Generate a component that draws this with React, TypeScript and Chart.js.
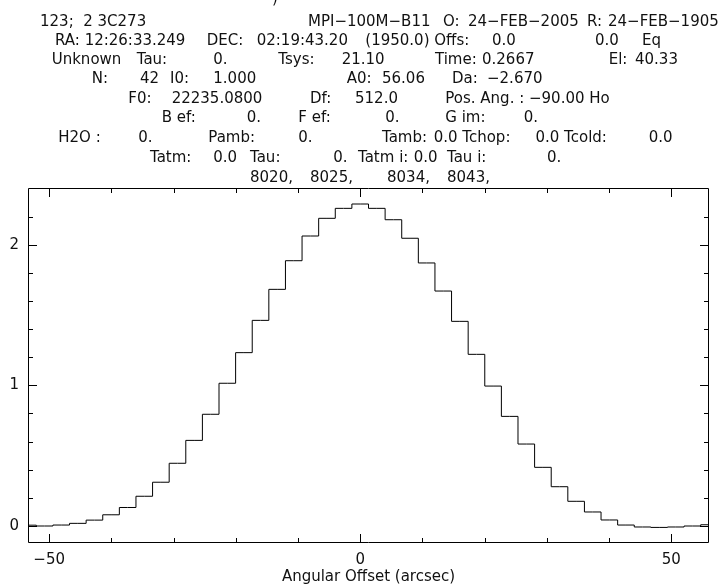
import React, { useEffect, useRef } from "react";
import { Chart, registerables } from "chart.js";

Chart.register(...registerables);

// ---- data ----
const offsets = [
  -53.4, -50.73, -48.06, -45.39, -42.72, -40.05, -37.38, -34.71, -32.04, -29.37,
  -26.7, -24.03, -21.36, -18.69, -16.02, -13.35, -10.68, -8.01, -5.34, -2.67,
  0.0, 2.67, 5.34, 8.01, 10.68, 13.35, 16.02, 18.69, 21.36, 24.03,
  26.7, 29.37, 32.04, 34.71, 37.38, 40.05, 42.72, 45.39, 48.06, 50.73,
  53.4, 56.07,
];
const intensity = [
  0.004, -0.002, 0.005, 0.017, 0.04, 0.078, 0.13, 0.21, 0.31, 0.445,
  0.608, 0.794, 1.015, 1.233, 1.463, 1.684, 1.888, 2.064, 2.19, 2.261,
  2.292, 2.261, 2.18, 2.048, 1.872, 1.672, 1.456, 1.221, 0.995, 0.779,
  0.582, 0.416, 0.278, 0.174, 0.098, 0.041, 0.005, -0.009, -0.012, -0.009,
  -0.002, 0.007,
];
const xMajorTicks = [-50, 0, 50];
const xMinorTicks = [-40, -30, -20, -10, 10, 20, 30, 40];
const yMajorTicks = [0, 1, 2];
const yMinorTicks = [0.2, 0.4, 0.6, 0.8, 1.2, 1.4, 1.6, 1.8, 2.2];
const xTitle = "Angular Offset (arcsec)";

// header text chunks: [text, x, line]
const headerChunks: [string, number, number][] = [
  ["123;  2 3C273", 40, 0],
  ["MPI\u2212100M\u2212B11", 308, 0],
  ["O:", 443, 0],
  ["24\u2212FEB\u22122005", 468, 0],
  ["R:", 587, 0],
  ["24\u2212FEB\u22121905", 608, 0],

  ["RA: 12:26:33.249", 55, 1],
  ["DEC:", 206.7, 1],
  ["02:19:43.20", 256.7, 1],
  ["(1950.0) Offs:", 365.3, 1],
  ["0.0", 492, 1],
  ["0.0", 595, 1],
  ["Eq", 642, 1],

  ["Unknown", 51.7, 2],
  ["Tau:", 136.7, 2],
  ["0.", 213.3, 2],
  ["Tsys:", 278.3, 2],
  ["21.10", 341.7, 2],
  ["Time:", 435, 2],
  ["0.2667", 482, 2],
  ["El:", 608.7, 2],
  ["40.33", 635, 2],

  ["N:", 91.7, 3],
  ["42", 140, 3],
  ["I0:", 170, 3],
  ["1.000", 213.3, 3],
  ["A0:", 346.7, 3],
  ["56.06", 382, 3],
  ["Da:", 452, 3],
  ["\u22122.670", 487, 3],

  ["F0:", 128.3, 4],
  ["22235.0800", 171.7, 4],
  ["Df:", 310, 4],
  ["512.0", 355, 4],
  ["Pos. Ang. : \u221290.00 Ho", 445.3, 4],

  ["B ef:", 161.7, 5],
  ["0.", 246.7, 5],
  ["F ef:", 298.3, 5],
  ["0.", 385.3, 5],
  ["G im:", 445.3, 5],
  ["0.", 523.7, 5],

  ["H2O :", 58.3, 6],
  ["0.", 138.3, 6],
  ["Pamb:", 208.3, 6],
  ["0.", 298.3, 6],
  ["Tamb:", 382, 6],
  ["0.0 Tchop:", 433.7, 6],
  ["0.0 Tcold:", 535.5, 6],
  ["0.0", 648.7, 6],

  ["Tatm:", 150, 7],
  ["0.0", 213.3, 7],
  ["Tau:", 250, 7],
  ["0.", 333.3, 7],
  ["Tatm i:", 358, 7],
  ["0.0", 413.7, 7],
  ["Tau i:", 447, 7],
  ["0.", 547, 7],

  ["8020,", 250, 8],
  ["8025,", 310, 8],
  ["8034,", 387, 8],
  ["8043,", 447, 8],
];
const lineBaselines = [26, 45, 64, 83, 102.5, 122.2, 142.2, 162.2, 182.2];

const FONT = '"DejaVu Sans", "Liberation Sans", sans-serif';

const fmt = (v: number) => (v < 0 ? "\u2212" + Math.abs(v) : String(v));

const framePlugin = {
  id: "frame",
  afterDraw(chart: any) {
    const { ctx, chartArea: a, scales } = chart;
    const xs = scales.x;
    const ys = scales.y;
    ctx.save();
    ctx.strokeStyle = "#000";
    ctx.lineWidth = 1;
    const L = Math.round(a.left) + 0.5;
    const R = Math.round(a.right) - 0.5;
    const T = Math.round(a.top) + 0.5;
    const B = Math.round(a.bottom) - 0.5;
    ctx.beginPath();
    ctx.rect(L, T, R - L, B - T);
    ctx.stroke();
    const major = 8.5;
    const minor = 4.5;
    ctx.beginPath();
    const xt = (v: number, len: number) => {
      const p = Math.round(xs.getPixelForValue(v)) + 0.5;
      ctx.moveTo(p, B);
      ctx.lineTo(p, B - len);
      ctx.moveTo(p, T);
      ctx.lineTo(p, T + len);
    };
    const yt = (v: number, len: number) => {
      const p = Math.round(ys.getPixelForValue(v)) + 0.5;
      ctx.moveTo(L, p);
      ctx.lineTo(L + len, p);
      ctx.moveTo(R, p);
      ctx.lineTo(R - len, p);
    };
    xMajorTicks.forEach((v) => xt(v, major));
    xMinorTicks.forEach((v) => xt(v, minor));
    yMajorTicks.forEach((v) => yt(v, major));
    yMinorTicks.forEach((v) => yt(v, minor));
    ctx.stroke();

    // header
    ctx.fillStyle = "#111";
    ctx.font = `15px ${FONT}`;
    ctx.textAlign = "left";
    ctx.textBaseline = "alphabetic";
    headerChunks.forEach(([t, x, line]) => {
      ctx.fillText(t, x, lineBaselines[line]);
    });
    ctx.fillText(")", 272, 3);
    ctx.restore();
  },
};

export default function App() {
  const ref = useRef<HTMLCanvasElement | null>(null);
  useEffect(() => {
    document.body.style.margin = "0";
    const canvas = ref.current!;
    const chart = new Chart(canvas, {
      type: "line",
      data: {
        datasets: [
          {
            data: offsets.map((x, i) => ({ x, y: intensity[i] })),
            stepped: "middle",
            borderColor: "#000",
            borderWidth: 1,
            pointRadius: 0,
            fill: false,
          } as any,
        ],
      },
      options: {
        responsive: false,
        animation: false,
        devicePixelRatio: 1,
        layout: { padding: { top: 188, right: 15, left: 0, bottom: 0 } },
        plugins: { legend: { display: false }, tooltip: { enabled: false } },
        scales: {
          x: {
            type: "linear",
            min: -53.4,
            max: 56.07,
            grid: { display: false, drawTicks: false },
            border: { display: false },
            afterBuildTicks: (s: any) => {
              s.ticks = xMajorTicks.map((v) => ({ value: v }));
            },
            afterFit: (s: any) => {
              s.height = 42;
            },
            ticks: {
              font: { family: FONT, size: 15 },
              color: "#111",
              padding: 8,
              maxRotation: 0,
              autoSkip: false,
              callback: (v: any) => fmt(Number(v)),
            },
            title: {
              display: true,
              text: xTitle,
              color: "#111",
              font: { family: FONT, size: 15, lineHeight: 1 },
              padding: { top: 0, bottom: 0 },
            },
          },
          y: {
            type: "linear",
            min: -0.123,
            max: 2.406,
            grid: { display: false, drawTicks: false },
            border: { display: false },
            afterBuildTicks: (s: any) => {
              s.ticks = yMajorTicks.map((v) => ({ value: v }));
            },
            afterFit: (s: any) => {
              s.width = 28;
            },
            ticks: {
              font: { family: FONT, size: 15 },
              color: "#111",
              padding: 9,
              autoSkip: false,
              callback: (v: any) => fmt(Number(v)),
            },
          },
        },
      } as any,
      plugins: [framePlugin],
    });
    return () => chart.destroy();
  }, []);
  return (
    <canvas
      ref={ref}
      width={724}
      height={585}
      style={{ display: "block", position: "absolute", left: 0, top: 0, background: "#fff" }}
    />
  );
}
